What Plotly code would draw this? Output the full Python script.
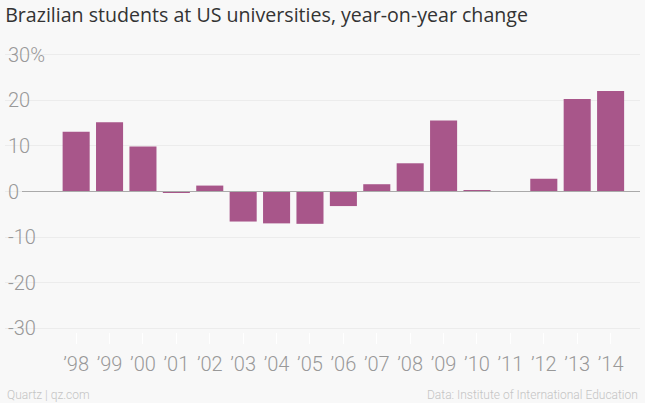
import plotly.graph_objects as go

# Year-on-year change in Brazilian students at US universities (%)
years = ["’98", "’99", "’00", "’01", "’02", "’03", "’04", "’05", "’06",
         "’07", "’08", "’09", "’10", "’11", "’12", "’13", "’14"]
change = [13.1, 15.2, 9.9, -0.3, 1.3, -6.6, -7.0, -7.1, -3.2,
          1.6, 6.2, 15.6, 0.2, -0.1, 2.8, 20.3, 22.1]

y_ticks = [-30, -20, -10, 0, 10, 20, 30]
y_labels = ["-30", "-20", "-10", "0", "10", "20", "30%"]

bg = "#f8f8f8"
bar_color = "#a8568a"
W, H = 645, 403
ml, mr, mt, mb = 5, 5, 39, 59

fig = go.Figure(go.Bar(
    x=list(range(len(years))),
    y=change,
    marker=dict(color=bar_color, line=dict(width=0)),
    hoverinfo="skip",
))

fig.update_layout(
    width=W, height=H,
    margin=dict(l=ml, r=mr, t=mt, b=mb),
    paper_bgcolor=bg, plot_bgcolor=bg,
    bargap=0.19,
    showlegend=False,
    font=dict(family="Roboto", color="#999999"),
    title=dict(
        text="Brazilian students at US universities, year-on-year change",
        x=0.008, xanchor="left", y=0.962, yanchor="middle",
        font=dict(family="Open Sans", size=19.6, color="#333333"),
    ),
)

fig.update_xaxes(
    tickmode="array",
    tickvals=list(range(len(years))),
    ticktext=years,
    range=[-2.13, 16.88],
    showgrid=False, zeroline=False, showline=False,
    ticks="inside", ticklen=11, tickcolor="#ffffff", tickwidth=1,
    ticklabelstandoff=6,
    tickfont=dict(family="Roboto", size=20, weight=300, color="#999999"),
)

fig.update_yaxes(
    range=[-33.5, 33.5],
    tickvals=y_ticks, ticktext=y_labels,
    ticklabelposition="inside",
    showgrid=True, gridcolor="#ececec", gridwidth=1,
    zeroline=False, showline=False, ticks="",
    tickfont=dict(family="Roboto", size=20, weight=300, color="#999999"),
)

# zero baseline starting just right of the "0" label
plot_w = W - ml - mr
fig.add_shape(type="line", xref="paper", yref="y",
              x0=(22 - ml) / plot_w, x1=1.0, y0=0, y1=0,
              line=dict(color="#aaaaaa", width=1), layer="above")

foot_y = -(395 - (H - mb)) / (H - mt - mb)
fig.add_annotation(text="Quartz | qz.com", xref="paper", yref="paper",
                   x=0, y=foot_y,
                   xanchor="left", yanchor="middle", showarrow=False,
                   font=dict(family="Roboto", size=12, weight=300, color="#c4c4c4"))
fig.add_annotation(text="Data: Institute of International Education",
                   xref="paper", yref="paper",
                   x=1, y=foot_y,
                   xanchor="right", yanchor="middle", showarrow=False,
                   font=dict(family="Roboto", size=12, weight=300, color="#c4c4c4"))

fig.write_html("out.html", config={"displayModeBar": False},
               post_script="document.body.style.margin='0';")
